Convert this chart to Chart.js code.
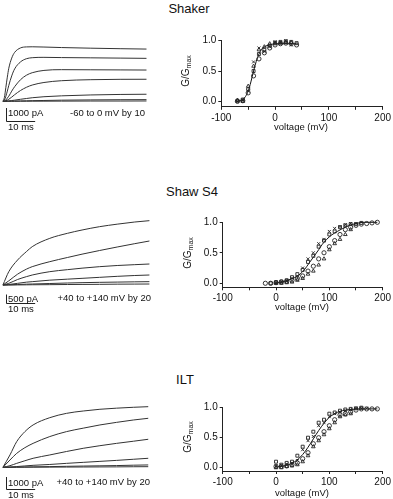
<!DOCTYPE html>
<html><head><meta charset="utf-8">
<script src="https://cdn.jsdelivr.net/npm/chart.js@4.4.1/dist/chart.umd.min.js"></script>
<style>
html,body{margin:0;padding:0;background:#fff;}
body{width:393px;height:499px;position:relative;overflow:hidden;font-family:"Liberation Sans",Arial,sans-serif;color:#111;}
canvas{position:absolute;}
.t{position:absolute;white-space:nowrap;line-height:1;transform:translateY(-50%);}
.c{transform:translate(-50%,-50%);}
.r{transform:translate(-100%,-50%);}
.ttl{font-size:13px;}
.lab{font-size:9.5px;}
.ax{font-size:9.5px;}
.yt{position:absolute;white-space:nowrap;line-height:1;font-size:10px;transform:translate(-50%,-50%) rotate(-90deg);}
.yt sub{font-size:7px;vertical-align:-2px;}
</style></head><body>
<canvas id="trShaker" width="152" height="95" style="left:0;top:40px;"></canvas>
<canvas id="trShaw" width="152" height="110" style="left:0;top:210px;"></canvas>
<canvas id="trILT" width="152" height="99" style="left:0;top:400px;"></canvas>
<canvas id="gvShaker" width="223" height="100" style="left:170px;top:30px;"></canvas>
<canvas id="gvShaw" width="223" height="100" style="left:170px;top:212px;"></canvas>
<canvas id="gvILT" width="223" height="100" style="left:170px;top:397px;"></canvas>

<div class="t c ttl" style="left:189px;top:8px;">Shaker</div>
<div class="t c ttl" style="left:192px;top:191px;">Shaw S4</div>
<div class="t c ttl" style="left:185px;top:379px;">ILT</div>

<div class="t lab" style="left:8px;top:113px;">1000 pA</div>
<div class="t lab" style="left:8px;top:127px;">10 ms</div>
<div class="t r lab" style="left:145px;top:113px;">-60 to 0 mV by 10</div>

<div class="t lab" style="left:8px;top:299px;">500 pA</div>
<div class="t lab" style="left:8px;top:309px;">10 ms</div>
<div class="t r lab" style="left:151px;top:298px;">+40 to +140 mV by 20</div>

<div class="t lab" style="left:8px;top:483px;">1000 pA</div>
<div class="t lab" style="left:8px;top:495px;">10 ms</div>
<div class="t r lab" style="left:150px;top:482px;">+40 to +140 mV by 20</div>

<div class="yt" style="left:186px;top:71px;">G/G<sub>max</sub></div>
<div class="yt" style="left:188px;top:253px;">G/G<sub>max</sub></div>
<div class="yt" style="left:188px;top:437px;">G/G<sub>max</sub></div>
<div class="t c ax" style="left:301px;top:127px;">voltage (mV)</div>
<div class="t c ax" style="left:302px;top:307px;">voltage (mV)</div>
<div class="t c ax" style="left:302px;top:493px;">voltage (mV)</div>

<script>
// ---------- current traces (time in ms, current in pA) ----------
const shakerT = [0,0.5,1,1.5,2,3,4,6,8,10,14,20,30,40,49];
const shaker0   = [0,300,1100,1900,2600,3400,3850,4200,4280,4290,4270,4230,4180,4140,4110];
const shakerM10 = [0,100,400,800,1250,2000,2550,3100,3350,3430,3460,3440,3420,3400,3380];
const shakerM20 = [0,30,100,250,400,800,1150,1700,2050,2250,2430,2490,2480,2470,2460];
const shakerM30 = [0,10,40,90,160,330,520,850,1100,1280,1480,1620,1700,1730,1735];
const shakerM40 = [0,0,10,20,30,60,90,160,220,280,360,430,500,540,555];
const shakerM50 = [0,0,0,5,10,15,20,30,40,50,65,90,110,125,130];
const shakerM60 = [0,0,0,0,0,0,0,5,5,10,10,15,20,20,25];

const shawT = [0,2,5,8,10,16,22,27,33,39,45,50];
const shaw140 = [0,800,1500,2000,2300,2800,3100,3300,3500,3650,3780,3860];
const shaw120 = [0,250,650,950,1100,1400,1650,1850,2070,2280,2480,2640];
const shaw100 = [0,100,330,500,600,800,920,1010,1100,1170,1220,1260];
const shaw80  = [0,30,100,170,200,290,350,400,460,520,570,600];
const shaw60  = [0,10,30,50,60,90,120,140,160,175,190,200];
const shaw40  = [0,0,5,10,15,20,30,35,40,50,55,60];

const iltT = [0,2.4,4.7,7.5,10.3,16,21.7,27.4,33.1,38.8,44.5,49.6];
const ilt140 = [0,1000,2080,2890,3430,4020,4370,4560,4700,4790,4860,4910];
const ilt120 = [0,590,1130,1590,1940,2490,2890,3170,3430,3640,3830,3970];
const ilt100 = [0,130,320,530,730,1000,1280,1540,1750,1940,2110,2270];
const ilt80  = [0,20,60,110,160,230,320,400,480,560,650,730];
const ilt60  = [0,5,15,25,35,55,80,100,120,140,170,190];
const ilt40  = [0,0,5,8,10,15,20,25,30,35,45,50];

// ---------- G/Gmax vs voltage ----------
const shakerV = [-70,-60,-50,-40,-30,-20,-10,0,10,20,30,40];
const shakerG1 = [0.00,0.01,0.14,0.42,0.70,0.80,0.88,0.93,0.95,0.96,0.95,0.93];
const shakerG2 = [0.01,0.03,0.20,0.50,0.78,0.85,0.92,0.97,0.98,0.99,0.98,0.96];
const shakerG3 = [0.02,0.00,0.25,0.58,0.85,0.90,0.95,0.95,0.96,0.97,0.97,null];
const shakerG4 = [0.00,0.02,0.17,0.65,0.88,0.82,0.90,0.98,0.97,1.00,0.93,null];
const shakerFitV = [-72,-65,-60,-55,-50,-45,-40,-35,-30,-25,-20,-10,0,10,20,30,40];
const shakerFitG = [0.00,0.01,0.03,0.08,0.17,0.32,0.50,0.66,0.78,0.86,0.90,0.93,0.95,0.95,0.95,0.95,0.95];

const shawV = [-20,-10,0,10,20,30,40,50,60,70,80,90,100,110,120,130,140,150,160,170,180,190];
const shawG1 = [0.00,0.00,0.01,0.02,0.03,0.05,0.08,0.12,0.20,0.28,0.40,0.50,0.60,0.70,0.80,0.88,0.92,0.95,0.97,0.98,0.99,1.00];
const shawG2 = [null,0.00,0.02,0.03,0.05,0.10,0.15,0.22,0.35,0.45,0.60,0.70,0.80,0.85,0.92,0.95,0.97,0.97,0.99,null,null,null];
const shawG3 = [null,null,0.00,0.00,0.01,0.02,0.05,0.08,0.15,0.20,0.30,0.40,0.55,0.65,0.72,0.80,0.88,null,null,null,null,null];
const shawG4 = [null,null,0.01,0.02,0.04,0.08,0.10,0.25,0.40,0.50,0.65,0.72,0.85,0.90,0.93,0.96,0.98,0.98,null,null,null,null];
const shawFitV = [-2,15,31,45,53,62,71,80,86,95,104,115,125,138,150,165,190];
const shawFitG = [0.00,0.03,0.08,0.15,0.22,0.33,0.44,0.55,0.63,0.72,0.79,0.85,0.90,0.95,0.98,1.00,1.00];

const iltV = [0,10,20,30,40,50,60,70,80,90,100,110,120,130,140,150,160,170,180,190];
const iltG1 = [0.02,0.02,0.03,0.05,0.08,0.15,0.25,0.40,0.50,0.60,0.70,0.80,0.88,0.90,0.93,0.96,0.98,0.98,0.98,0.98];
const iltG2 = [0.10,0.05,0.08,0.10,0.20,0.35,0.50,0.60,0.75,0.80,0.90,0.92,0.95,0.97,0.98,0.99,1.00,null,null,null];
const iltG3 = [0.00,0.00,0.02,0.03,0.05,0.10,0.20,0.35,0.45,0.55,0.65,0.75,0.85,0.88,0.90,null,null,null,null,null];
const iltG4 = [0.03,0.04,0.06,0.08,0.12,0.30,0.45,0.52,0.70,0.75,0.85,0.90,0.93,0.95,0.97,0.99,0.99,0.99,null,null];
const iltFitV = [-2,20,35,50,60,70,80,90,100,110,120,140,160,190];
const iltFitG = [0.01,0.04,0.10,0.22,0.34,0.48,0.62,0.74,0.84,0.90,0.94,0.97,0.98,0.98];

const FONT = '"Liberation Sans", Arial, sans-serif';

const scaleBarPlugin = {
  id: 'scaleBar',
  afterDraw(chart, args, opts) {
    if (!opts || opts.t0 === undefined) return;
    const {ctx} = chart; const x = chart.scales.x, y = chart.scales.y;
    const x0 = Math.round(x.getPixelForValue(opts.t0)) + 0.5;
    const x1 = x.getPixelForValue(opts.t0 + opts.dt);
    const y0 = y.getPixelForValue(opts.v0);
    const y1 = Math.round(y.getPixelForValue(opts.v0 - opts.dv)) + 0.5;
    ctx.save(); ctx.strokeStyle = '#222'; ctx.lineWidth = 1;
    ctx.beginPath(); ctx.moveTo(x0, y0); ctx.lineTo(x0, y1); ctx.lineTo(x1, y1); ctx.stroke();
    ctx.restore();
  }
};

function traceChart(id, times, traces, yMin, yMax, bar) {
  new Chart(document.getElementById(id), {
    type: 'line',
    data: { datasets: traces.map(v => ({
      data: times.map((t, i) => ({x: t, y: v[i]})),
      borderColor: '#333', borderWidth: 1, pointRadius: 0,
      cubicInterpolationMode: 'monotone', fill: false
    })) },
    options: {
      responsive: false, animation: false, devicePixelRatio: 1,
      layout: {padding: 0},
      scales: {
        x: {type: 'linear', display: false, min: -1, max: 50.88},
        y: {display: false, min: yMin, max: yMax}
      },
      plugins: {legend: {display: false}, tooltip: {enabled: false}, scaleBar: bar}
    },
    plugins: [scaleBarPlugin]
  });
}

function gvChart(id, V, series, fitV, fitG, yMin, yAxisW, padTop, xAxisH) {
  const styles = ['circle', 'rect', 'triangle', 'crossRot'];
  const ds = series.map((g, k) => ({
    type: 'scatter',
    data: V.map((v, i) => g[i] == null ? null : {x: v, y: g[i]}).filter(Boolean),
    pointStyle: styles[k], pointRadius: 2.1, pointBorderWidth: 0.9,
    borderColor: '#222', backgroundColor: 'rgba(255,255,255,0)', showLine: false
  }));
  ds.push({
    type: 'line', data: fitV.map((v, i) => ({x: v, y: fitG[i]})),
    borderColor: '#111', borderWidth: 1, pointRadius: 0,
    cubicInterpolationMode: 'monotone', fill: false
  });
  const tickFont = {family: FONT, size: 10};
  new Chart(document.getElementById(id), {
    type: 'scatter',
    data: {datasets: ds},
    options: {
      responsive: false, animation: false, devicePixelRatio: 1,
      clip: false,
      layout: {padding: {top: padTop, right: 7.3, left: 0, bottom: 0}},
      scales: {
        x: {
          type: 'linear', min: -100, max: 200,
          border: {display: true, color: '#222', width: 1},
          grid: {drawOnChartArea: false, drawTicks: true, tickLength: 3, color: '#222'},
          ticks: {stepSize: 50, autoSkip: false, maxRotation: 0, padding: 2, color: '#111', font: tickFont,
            callback: v => (v % 100 === 0 ? String(v) : '')},
          afterFit: s => { s.height = xAxisH; }
        },
        y: {
          min: yMin, max: 1,
          border: {display: true, color: '#222', width: 1},
          grid: {drawOnChartArea: false, drawTicks: true, tickLength: 3, color: '#222'},
          ticks: {padding: 2, color: '#111', font: tickFont, callback: v => Number(v).toFixed(1)},
          afterBuildTicks: s => { s.ticks = [{value: 0}, {value: 0.5}, {value: 1}]; },
          afterFit: s => { s.width = yAxisW; }
        }
      },
      plugins: {legend: {display: false}, tooltip: {enabled: false}}
    }
  });
}

traceChart('trShaker', shakerT, [shaker0, shakerM10, shakerM20, shakerM30, shakerM40, shakerM50, shakerM60],
  -2652, 4824, {t0: 1, dt: 10, v0: -530, dv: 1000});
traceChart('trShaw', shawT, [shaw140, shaw120, shaw100, shaw80, shaw60, shaw40],
  -2100, 4500, {t0: 1, dt: 10, v0: -570, dv: 500});
traceChart('trILT', iltT, [ilt140, ilt120, ilt100, ilt80, ilt60, ilt40],
  -2568, 5451, {t0: 1, dt: 10, v0: -786, dv: 1000});

gvChart('gvShaker', shakerV, [shakerG1, shakerG2, shakerG3, shakerG4], shakerFitV, shakerFitG, -0.09, 51.3, 10.7, 23.2);
gvChart('gvShaw', shawV, [shawG1, shawG2, shawG3, shawG4], shawFitV, shawFitG, -0.066, 52.7, 10.3, 24.7);
gvChart('gvILT', iltV, [iltG1, iltG2, iltG3, iltG4], iltFitV, iltFitG, -0.055, 52.7, 10.7, 26);
</script>
</body></html>
